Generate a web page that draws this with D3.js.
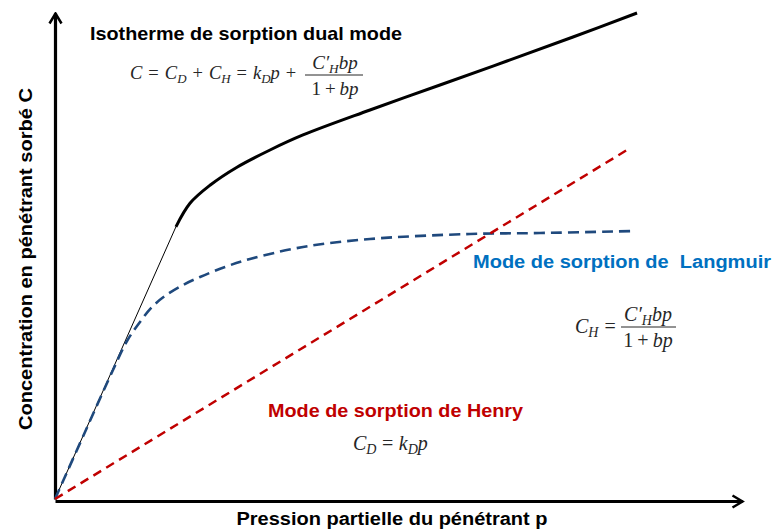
<!DOCTYPE html>
<html>
<head>
<meta charset="utf-8">
<script src="https://cdn.jsdelivr.net/npm/d3@7"></script>
<style>
  body { margin: 0; background: #fff; }
  .lbl { font-family: "Liberation Sans", Arial, sans-serif; font-weight: bold; }
  .math { font-family: "Liberation Serif", "Times New Roman", serif; fill: #262626; }
</style>
</head>
<body>
<svg width="775" height="531"></svg>
<script>
/* Data (p, C in arbitrary units 0-100) */
const dualP = [0, 17.6, 19.65, 22.56, 26.49, 31.3, 36.1, 45.85, 56.04, 65.79, 75.4, 84.72];
const dualC = [0, 56.0, 60.84, 64.55, 68.27, 71.81, 74.9, 80.04, 85.19, 90.12, 95.06, 100];
const langP = [0, 4.37, 8.44, 10.48, 12.37, 14.12, 16.01, 18.63, 21.11, 24.75, 28.38, 36.1, 45.85, 60.41, 70.6, 84.43];
const langC = [0, 13.79, 26.54, 32.51, 36.42, 39.51, 41.77, 44.03, 45.68, 47.74, 49.38, 51.85, 53.5, 54.53, 54.73, 55.14];
const henryP = [0, 83.7];
const henryC = [0, 72.2];

const zip = (a, b) => a.map((v, i) => [v, b[i]]);

/* SVG */
const svg = d3.select('svg');

/* Scales */
const x = d3.scaleLinear().domain([0, 100]).range([55, 742]);
const y = d3.scaleLinear().domain([0, 100]).range([499, 13]);

/* Arrow marker */
svg.append('defs').append('marker')
  .attr('id', 'arrow')
  .attr('markerUnits', 'userSpaceOnUse')
  .attr('viewBox', '-12 -8 14 16')
  .attr('markerWidth', 14).attr('markerHeight', 16)
  .attr('refX', 0).attr('refY', 0)
  .attr('orient', 'auto')
  .append('path')
  .attr('d', 'M-10,-6L0,0L-10,6')
  .attr('fill', 'none')
  .attr('stroke', '#000')
  .attr('stroke-width', 2.5);

/* Axes (x axis sits a touch below the curves' origin, as in the original) */
const xAxis = svg.append('g')
  .attr('transform', `translate(0,${y(0) + 2})`)
  .call(d3.axisBottom(x).ticks(0).tickSizeOuter(0));
const yAxis = svg.append('g')
  .attr('transform', `translate(${x(0)},2)`)
  .call(d3.axisLeft(y).ticks(0).tickSizeOuter(0));
[xAxis, yAxis].forEach(g => g.select('.domain')
  .attr('stroke', '#000')
  .attr('stroke-width', 3.2)
  .attr('marker-end', 'url(#arrow)'));
yAxis.select('.domain').attr('transform', 'translate(0,-2)');

/* Lines */
const line = d3.line().x(d => x(d[0])).y(d => y(d[1]));
const smooth = d3.line().x(d => x(d[0])).y(d => y(d[1])).curve(d3.curveCatmullRom.alpha(0.5));

const dual = zip(dualP, dualC);

svg.append('path')
  .attr('d', line(dual.slice(0, 2)))
  .attr('fill', 'none').attr('stroke', '#000').attr('stroke-width', 1);

svg.append('path')
  .attr('d', smooth(dual.slice(1)))
  .attr('fill', 'none').attr('stroke', '#000').attr('stroke-width', 3);

svg.append('path')
  .attr('d', smooth(zip(langP, langC)))
  .attr('fill', 'none').attr('stroke', '#1f497d').attr('stroke-width', 2.6)
  .attr('stroke-dasharray', '11,6');

svg.append('path')
  .attr('d', line(zip(henryP, henryC)))
  .attr('fill', 'none').attr('stroke', '#c00000').attr('stroke-width', 2.5)
  .attr('stroke-dasharray', '9,6');

/* Labels */
function label(px, py, size, width, color, txt, anchor) {
  return svg.append('text').attr('class', 'lbl')
    .attr('x', px).attr('y', py)
    .attr('font-size', size).attr('fill', color)
    .attr('text-anchor', anchor || 'start')
    .attr('textLength', width).attr('lengthAdjust', 'spacingAndGlyphs')
    .attr('xml:space', 'preserve')
    .text(txt);
}
label(90, 40, 18.5, 312, '#000', 'Isotherme de sorption dual mode');
label(473, 268, 18, 298, '#0070c0', 'Mode de sorption de  Langmuir');
label(268, 417, 18, 255, '#c00000', 'Mode de sorption de Henry');
label(392, 525, 17.5, 311, '#000', 'Pression partielle du pénétrant p', 'middle');
label(0, 0, 17.5, 342, '#000', 'Concentration en pénétrant sorbé C', 'middle')
  .attr('transform', 'translate(32,259) rotate(-90)');

/* Math: parts are [text, kind]; kind i = italic, n = normal, s = subscript,
   o = operator with gaps */
function mathText(px, py, size, gap, parts, anchor) {
  const t = svg.append('text').attr('class', 'math')
    .attr('x', px).attr('y', py)
    .attr('font-size', size)
    .attr('text-anchor', anchor || 'start');
  let pending = 0;
  parts.forEach(([s, k]) => {
    const ts = t.append('tspan').text(s)
      .attr('font-style', k === 'n' || k === 'o' ? 'normal' : 'italic');
    let dx = pending;
    pending = 0;
    if (k === 'o') { dx += gap; pending = gap; }
    if (k === 's') {
      ts.attr('font-size', size * 0.7).attr('baseline-shift', -size * 0.22);
    }
    if (dx) ts.attr('dx', dx);
  });
  return t;
}
function fraction(cx, barY, x0, x1, size, gap) {
  mathText(cx, barY - 6, size, gap, [['C′', 'i'], ['H', 's'], ['bp', 'i']], 'middle');
  svg.append('line').attr('x1', x0).attr('x2', x1).attr('y1', barY).attr('y2', barY)
    .attr('stroke', '#262626').attr('stroke-width', 1);
  mathText(cx, barY + 20, size, gap, [['1', 'n'], ['+', 'o'], ['bp', 'i']], 'middle');
}

/* Main formula */
mathText(130, 79, 18.5, 6, [['C', 'i'], ['=', 'o'], ['C', 'i'], ['D', 's'], ['+', 'o'],
  ['C', 'i'], ['H', 's'], ['=', 'o'], ['k', 'i'], ['D', 's'], ['p', 'i'], ['+', 'o']]);
fraction(335, 75, 305, 363, 19, 4);

/* Langmuir formula */
mathText(575, 333, 20, 6, [['C', 'i'], ['H', 's'], ['=', 'o']]);
fraction(648, 327, 621, 676, 20, 4);

/* Henry formula */
mathText(353, 450, 20, 5.5, [['C', 'i'], ['D', 's'], ['=', 'o'], ['k', 'i'], ['D', 's'], ['p', 'i']]);
</script>
</body>
</html>
